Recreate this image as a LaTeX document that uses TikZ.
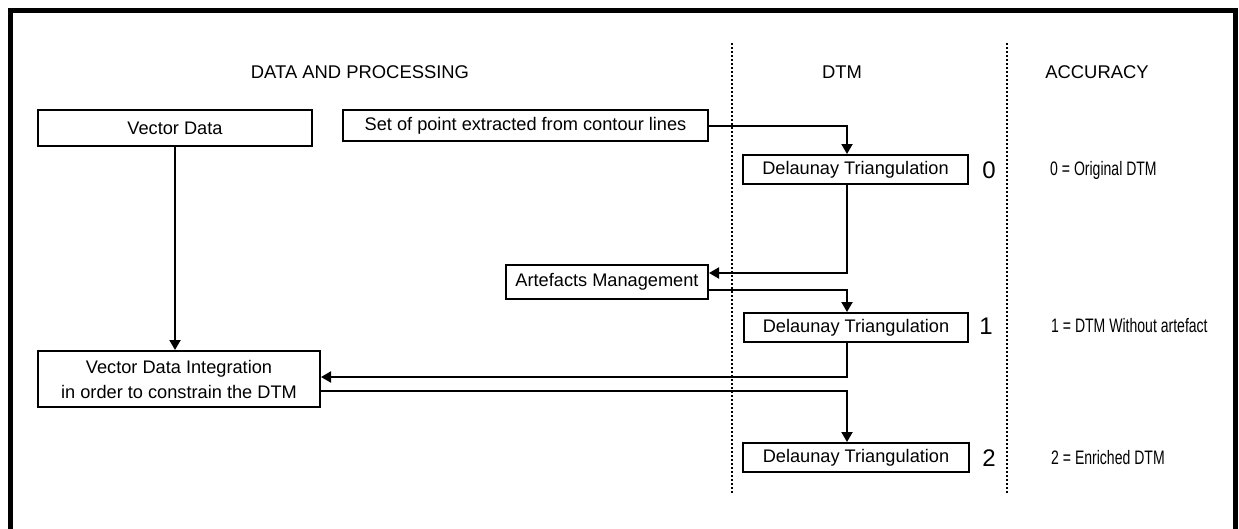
\documentclass[tikz,border=0pt]{standalone}
\usepackage{fontspec}
\usepackage{graphicx}
\setmainfont{Liberation Sans}
\usetikzlibrary{arrows.meta}
\begin{document}
\begin{tikzpicture}[x=1pt,y=-1pt,
  box/.style={draw=black,line width=2pt,inner sep=0pt,align=center,
    font=\fontsize{18.2}{25}\selectfont},
  hdr/.style={inner sep=0pt,font=\fontsize{18.4}{22}\selectfont},
  lvl/.style={inner sep=0pt,font=\fontsize{24}{26}\selectfont},
  legend/.style={inner sep=0pt,anchor=west,font=\fontsize{19.5}{22}\selectfont},
  conn/.style={line width=2pt,-{Triangle[width=11pt,length=10pt]}},
  sep/.style={line width=1.7pt,dash pattern=on 2pt off 2pt}]
\useasboundingbox (0,0) rectangle (1239,528);
% frame
\draw[line width=4.5pt] (10.5,530) -- (10.5,10.5) -- (1235.5,10.5) -- (1235.5,530);
% separators
\draw[sep] (732,43) -- (732,493);
\draw[sep] (1007,43) -- (1007,493);
% headers
\node[hdr] (h1) at (360,72) {DATA AND PROCESSING};
\node[hdr] (h2) at (842,72) {DTM};
\node[hdr] (h3) at (1097,72) {ACCURACY};
% boxes
\node[box,minimum width=274pt,minimum height=36pt] (vd) at (175,128) {Vector Data};
\node[box,minimum width=365pt,minimum height=31pt] (sp) at (525.5,125.5) {Set of point extracted from contour lines};
\node[box,minimum width=225pt,minimum height=29pt] (dt0) at (855.5,169.5) {Delaunay Triangulation};
\node[box,minimum width=202pt,minimum height=34pt] (am) at (607,282) {Artefacts Management};
\node[box,minimum width=224pt,minimum height=29pt] (dt1) at (856,327.5) {Delaunay Triangulation};
\node[box,minimum width=282pt,minimum height=56pt] (vdi) at (179,379) {Vector Data Integration\\in order to constrain the DTM};
\node[box,minimum width=226pt,minimum height=29pt] (dt2) at (856,457.5) {Delaunay Triangulation};
% level numbers
\node[lvl] (n0) at (989,170) {0};
\node[lvl] (n1) at (986,326) {1};
\node[lvl] (n2) at (989,458) {2};
% legend
\node[legend] (l0) at (1050,170) {\scalebox{0.72}[1]{0 = Original DTM}};
\node[legend] (l1) at (1051,326) {\scalebox{0.72}[1]{1 = DTM Without artefact}};
\node[legend] (l2) at (1051,458) {\scalebox{0.72}[1]{2 = Enriched DTM}};
% connector coordinates
\coordinate (cx0) at (847,125.5);
\coordinate (cx1) at (847,273);
\coordinate (cx2) at (847,290);
\coordinate (cx3) at (847,377);
\coordinate (cx4) at (847,391);
% connectors
\draw[conn] (sp.east) -- (cx0) -- (cx0 |- dt0.north);
\draw[conn] (cx0 |- dt0.south) -- (cx1) -- (am.east |- cx1);
\draw[conn] (am.east |- cx2) -- (cx2) -- (cx2 |- dt1.north);
\draw[conn] (cx3 |- dt1.south) -- (cx3) -- (vdi.east |- cx3);
\draw[conn] (vdi.east |- cx4) -- (cx4) -- (cx4 |- dt2.north);
\draw[conn] (vd.south) -- (vdi.north -| vd.south);
\end{tikzpicture}
\end{document}
